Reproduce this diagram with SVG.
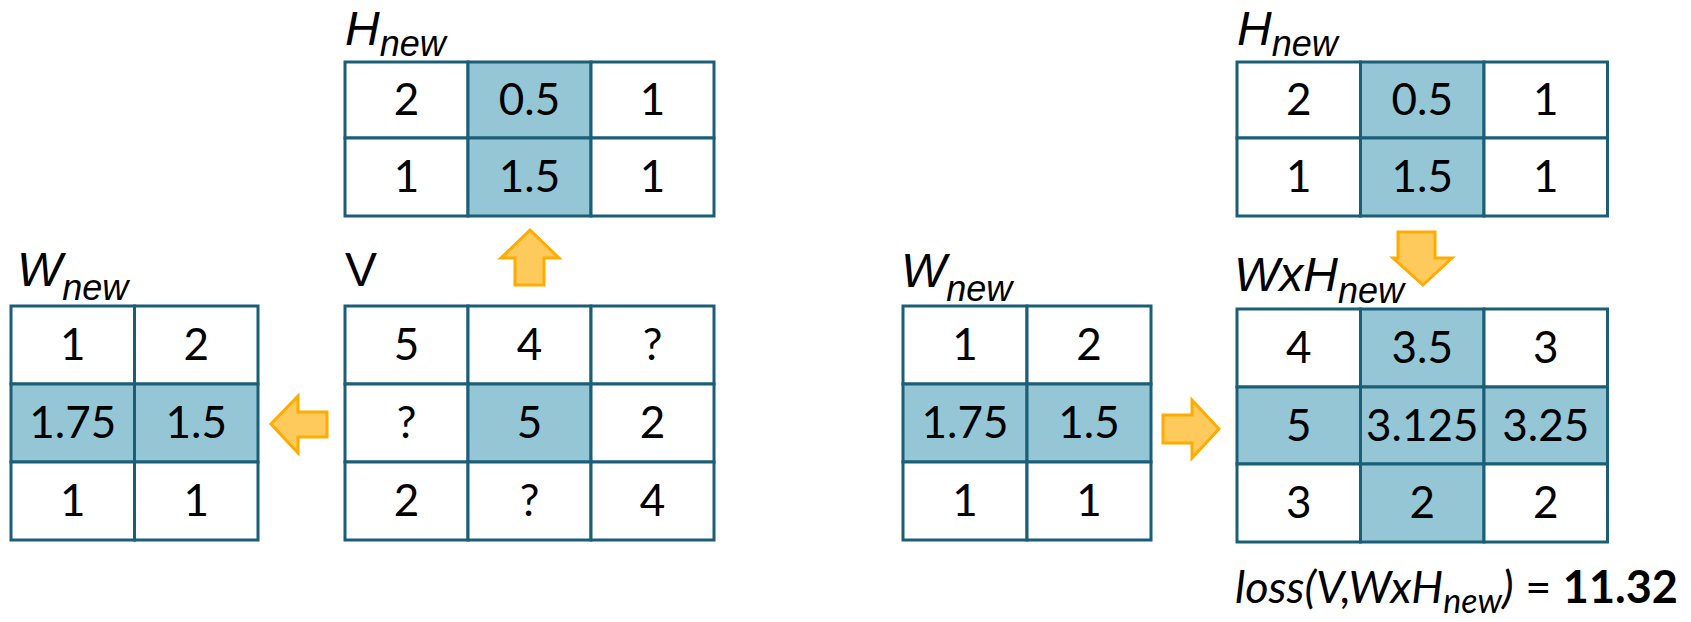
<svg xmlns="http://www.w3.org/2000/svg" width="1691" height="622" viewBox="0 0 1691 622">
<style>
.c{fill:#ffffff;stroke:#1b5e78;stroke-width:3}
.h{fill:#94c6d6;stroke:#1b5e78;stroke-width:3}
.n{font-family:Lato,"Liberation Sans",sans-serif;font-size:44px;fill:#000;text-anchor:middle}
.lb{font-family:"Liberation Sans",Arial,sans-serif;font-size:48px;font-style:italic;fill:#000}
.sub{font-size:36px}
.ar{fill:#ffca5c;stroke:#ffab00;stroke-width:3;stroke-linejoin:miter}
</style>
<rect width="1691" height="622" fill="#ffffff"/>

<g id="H_left">
<text class="lb" x="345" y="45">H<tspan class="sub" dy="11">new</tspan></text>
<rect class="c" x="345" y="62" width="123" height="76"/>
<rect class="h" x="468" y="62" width="123" height="76"/>
<rect class="c" x="591" y="62" width="123" height="76"/>
<rect class="c" x="345" y="138" width="123" height="78"/>
<rect class="h" x="468" y="138" width="123" height="78"/>
<rect class="c" x="591" y="138" width="123" height="78"/>
<text class="n" x="406.5" y="115">2</text>
<text class="n" x="529.5" y="115">0.5</text>
<text class="n" x="652.5" y="115">1</text>
<text class="n" x="406.5" y="192">1</text>
<text class="n" x="529.5" y="192">1.5</text>
<text class="n" x="652.5" y="192">1</text>
</g>

<g id="V">
<text x="345" y="286" font-family="'Liberation Sans',Arial,sans-serif" font-size="48" fill="#000">V</text>
<rect class="c" x="345" y="306" width="123" height="78"/>
<rect class="c" x="468" y="306" width="123" height="78"/>
<rect class="c" x="591" y="306" width="123" height="78"/>
<rect class="c" x="345" y="384" width="123" height="78"/>
<rect class="h" x="468" y="384" width="123" height="78"/>
<rect class="c" x="591" y="384" width="123" height="78"/>
<rect class="c" x="345" y="462" width="123" height="78"/>
<rect class="c" x="468" y="462" width="123" height="78"/>
<rect class="c" x="591" y="462" width="123" height="78"/>
<text class="n" x="406.5" y="360">5</text>
<text class="n" x="529.5" y="360">4</text>
<text class="n" x="652.5" y="360">?</text>
<text class="n" x="406.5" y="438">?</text>
<text class="n" x="529.5" y="438">5</text>
<text class="n" x="652.5" y="438">2</text>
<text class="n" x="406.5" y="516">2</text>
<text class="n" x="529.5" y="516">?</text>
<text class="n" x="652.5" y="516">4</text>
</g>

<g id="W_left">
<text class="lb" x="17" y="286">W<tspan class="sub" dy="14">new</tspan></text>
<rect class="c" x="11" y="306" width="123.5" height="78"/>
<rect class="c" x="134.5" y="306" width="123.5" height="78"/>
<rect class="h" x="11" y="384" width="123.5" height="78"/>
<rect class="h" x="134.5" y="384" width="123.5" height="78"/>
<rect class="c" x="11" y="462" width="123.5" height="78"/>
<rect class="c" x="134.5" y="462" width="123.5" height="78"/>
<text class="n" x="72.75" y="360">1</text>
<text class="n" x="196.25" y="360">2</text>
<text class="n" x="72.75" y="438">1.75</text>
<text class="n" x="196.25" y="438">1.5</text>
<text class="n" x="72.75" y="516">1</text>
<text class="n" x="196.25" y="516">1</text>
</g>

<g id="H_right">
<text class="lb" x="1237" y="45">H<tspan class="sub" dy="11">new</tspan></text>
<rect class="c" x="1237" y="62" width="123.5" height="76"/>
<rect class="h" x="1360.5" y="62" width="123.5" height="76"/>
<rect class="c" x="1484" y="62" width="123.5" height="76"/>
<rect class="c" x="1237" y="138" width="123.5" height="78"/>
<rect class="h" x="1360.5" y="138" width="123.5" height="78"/>
<rect class="c" x="1484" y="138" width="123.5" height="78"/>
<text class="n" x="1298.75" y="115">2</text>
<text class="n" x="1422.25" y="115">0.5</text>
<text class="n" x="1545.75" y="115">1</text>
<text class="n" x="1298.75" y="192">1</text>
<text class="n" x="1422.25" y="192">1.5</text>
<text class="n" x="1545.75" y="192">1</text>
</g>

<g id="W_right">
<text class="lb" x="901" y="287">W<tspan class="sub" dy="14">new</tspan></text>
<rect class="c" x="903" y="306" width="124" height="78"/>
<rect class="c" x="1027" y="306" width="124" height="78"/>
<rect class="h" x="903" y="384" width="124" height="78"/>
<rect class="h" x="1027" y="384" width="124" height="78"/>
<rect class="c" x="903" y="462" width="124" height="78"/>
<rect class="c" x="1027" y="462" width="124" height="78"/>
<text class="n" x="965" y="360">1</text>
<text class="n" x="1089" y="360">2</text>
<text class="n" x="965" y="438">1.75</text>
<text class="n" x="1089" y="438">1.5</text>
<text class="n" x="965" y="516">1</text>
<text class="n" x="1089" y="516">1</text>
</g>

<g id="WxH">
<text class="lb" x="1234" y="291">WxH<tspan class="sub" dy="12">new</tspan></text>
<rect class="c" x="1237" y="309" width="123.5" height="78"/>
<rect class="h" x="1360.5" y="309" width="123.5" height="78"/>
<rect class="c" x="1484" y="309" width="123.5" height="78"/>
<rect class="h" x="1237" y="387" width="123.5" height="77"/>
<rect class="h" x="1360.5" y="387" width="123.5" height="77"/>
<rect class="h" x="1484" y="387" width="123.5" height="77"/>
<rect class="c" x="1237" y="464" width="123.5" height="78"/>
<rect class="h" x="1360.5" y="464" width="123.5" height="78"/>
<rect class="c" x="1484" y="464" width="123.5" height="78"/>
<text class="n" x="1298.75" y="363">4</text>
<text class="n" x="1422.25" y="363">3.5</text>
<text class="n" x="1545.75" y="363">3</text>
<text class="n" x="1298.75" y="440.5">5</text>
<text class="n" x="1422.25" y="440.5">3.125</text>
<text class="n" x="1545.75" y="440.5">3.25</text>
<text class="n" x="1298.75" y="518">3</text>
<text class="n" x="1422.25" y="518">2</text>
<text class="n" x="1545.75" y="518">2</text>
</g>

<g id="loss">
<text x="1235" y="603" font-family="Lato,'Liberation Sans',sans-serif" font-size="45" fill="#000"><tspan font-style="italic">loss(V,WxH</tspan><tspan font-style="italic" font-size="34" dy="10">new</tspan><tspan font-style="italic" dy="-10">)</tspan> = <tspan font-weight="bold">11.32</tspan></text>
</g>

<g id="connectors">
<polygon class="ar" points="530,230 559,258 544,258 544,285 515,285 515,258 501,258"/>
<polygon class="ar" points="271,424 298,396 298,412 327,412 327,437 298,437 298,453"/>
<polygon class="ar" points="1219,429 1192,400 1192,415 1163,415 1163,443 1192,443 1192,458"/>
<polygon class="ar" points="1423,285 1452,258 1435,258 1435,232 1398,232 1398,258 1393,258"/>
</g>
</svg>
